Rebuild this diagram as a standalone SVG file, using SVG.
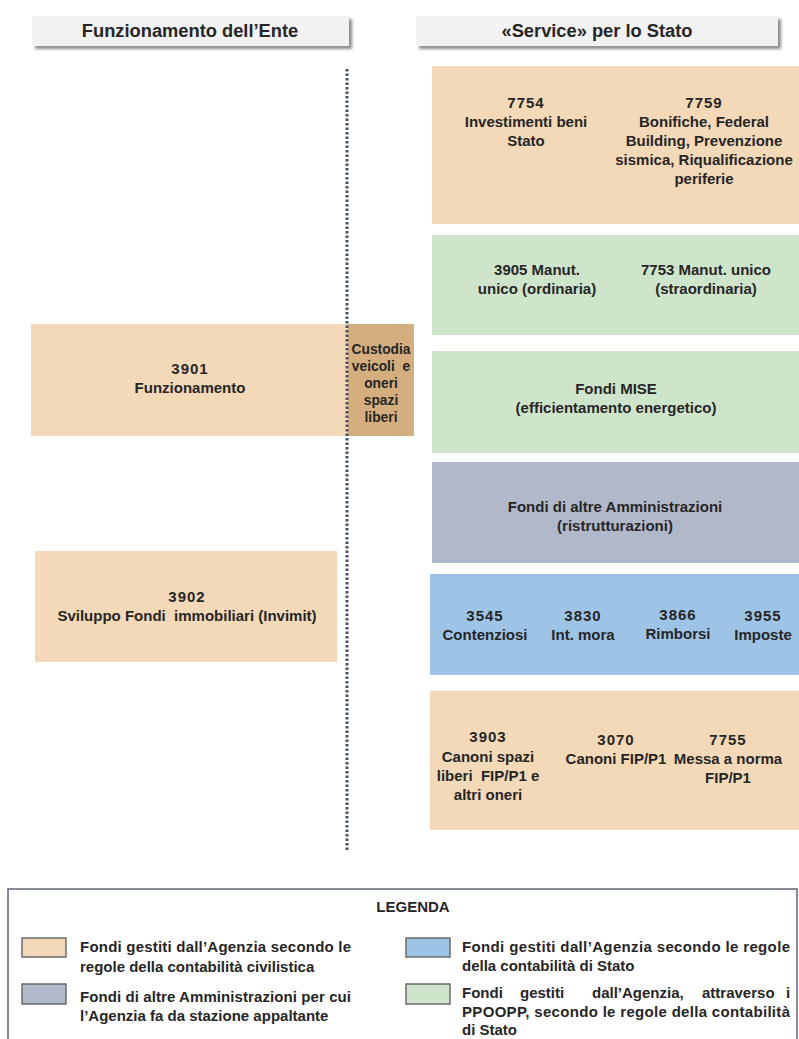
<svg xmlns="http://www.w3.org/2000/svg" width="799" height="1039" viewBox="0 0 799 1039">
<defs>
<filter id="sh" x="-5%" y="-30%" width="115%" height="180%">
<feGaussianBlur in="SourceAlpha" stdDeviation="1.5"/>
<feOffset dx="3" dy="3" result="o"/>
<feComponentTransfer><feFuncA type="linear" slope="0.45"/></feComponentTransfer>
<feMerge><feMergeNode/><feMergeNode in="SourceGraphic"/></feMerge>
</filter>
</defs>
<style>
text{font-family:"Liberation Sans",Arial,sans-serif;font-weight:bold;fill:#262626;}
.h{font-size:18.3px;text-anchor:middle;}
.t{font-size:15px;text-anchor:middle;}
.n{font-size:15px;text-anchor:middle;letter-spacing:1px;}
.s{font-size:13.8px;text-anchor:middle;}
.l{font-size:15px;}
.peach{fill:#F3D9B8;}
.green{fill:#CFE5CB;}
.gray{fill:#B1B8C9;}
.blue{fill:#9DC3E6;}
.tan{fill:#D4AE7E;}
.sw{stroke:#6B6B6B;stroke-width:1.5;}
</style>
<rect width="799" height="1039" fill="#fff"/>

<g id="header-ente">
<rect x="32" y="16" width="317" height="30" fill="#F2F2F2" filter="url(#sh)"/>
<text class="h" x="190" y="37">Funzionamento dell’Ente</text>
</g>
<g id="header-service">
<rect x="416" y="16" width="362" height="30" fill="#F2F2F2" filter="url(#sh)"/>
<text class="h" x="597" y="37">«Service» per lo Stato</text>
</g>

<g id="box-7754-7759">
<rect class="peach" x="432" y="66" width="367" height="158"/>
<text class="n" x="526" y="108">7754</text>
<text class="t" x="526" y="127">Investimenti beni</text>
<text class="t" x="526" y="146">Stato</text>
<text class="n" x="704" y="108">7759</text>
<text class="t" x="704" y="127">Bonifiche, Federal</text>
<text class="t" x="704" y="146">Building, Prevenzione</text>
<text class="t" x="704" y="165">sismica, Riqualificazione</text>
<text class="t" x="704" y="184">periferie</text>
</g>

<g id="box-manut">
<rect class="green" x="432" y="235" width="367" height="100"/>
<text class="t" x="537" y="275">3905 Manut.</text>
<text class="t" x="537" y="294">unico (ordinaria)</text>
<text class="t" x="706" y="275">7753 Manut. unico</text>
<text class="t" x="706" y="294">(straordinaria)</text>
</g>

<g id="box-mise">
<rect class="green" x="432" y="351" width="367" height="102"/>
<text class="t" x="616" y="394">Fondi MISE</text>
<text class="t" x="616" y="413">(efficientamento energetico)</text>
</g>

<g id="box-altre">
<rect class="gray" x="432" y="462" width="367" height="101"/>
<text class="t" x="615" y="512">Fondi di altre Amministrazioni</text>
<text class="t" x="615" y="531">(ristrutturazioni)</text>
</g>

<g id="box-stato">
<rect class="blue" x="430" y="574" width="369" height="101"/>
<text class="n" x="485" y="621">3545</text>
<text class="t" x="485" y="640">Contenziosi</text>
<text class="n" x="583" y="621">3830</text>
<text class="t" x="583" y="640">Int. mora</text>
<text class="n" x="678" y="620">3866</text>
<text class="t" x="678" y="639">Rimborsi</text>
<text class="n" x="763" y="621">3955</text>
<text class="t" x="763" y="640">Imposte</text>
</g>

<g id="box-fip">
<rect class="peach" x="430" y="691" width="369" height="139"/>
<text class="n" x="488" y="742">3903</text>
<text class="t" x="488" y="762">Canoni spazi</text>
<text class="t" x="488" y="781" xml:space="preserve">liberi  FIP/P1 e</text>
<text class="t" x="488" y="800">altri oneri</text>
<text class="n" x="616" y="745">3070</text>
<text class="t" x="616" y="764">Canoni FIP/P1</text>
<text class="n" x="728" y="745">7755</text>
<text class="t" x="728" y="764">Messa a norma</text>
<text class="t" x="728" y="783">FIP/P1</text>
</g>

<g id="box-3901">
<rect class="peach" x="31" y="324" width="317" height="112"/>
<text class="n" x="190" y="374">3901</text>
<text class="t" x="190" y="393">Funzionamento</text>
</g>

<g id="box-custodia">
<rect class="tan" x="348" y="324" width="66" height="112"/>
<text class="s" x="381" y="354">Custodia</text>
<text class="s" x="381" y="371" xml:space="preserve">veicoli  e</text>
<text class="s" x="381" y="388">oneri</text>
<text class="s" x="381" y="405">spazi</text>
<text class="s" x="381" y="422">liberi</text>
</g>

<g id="box-3902">
<rect class="peach" x="35" y="551" width="302" height="111"/>
<text class="n" x="187" y="602">3902</text>
<text class="t" x="187" y="621" xml:space="preserve">Sviluppo Fondi  immobiliari (Invimit)</text>
</g>

<g id="connectors">
<line x1="347" y1="69" x2="347" y2="850" stroke="#4A5466" stroke-width="3" stroke-dasharray="2.5 2"/>
</g>

<g id="legend">
<rect x="8" y="889" width="789" height="160" fill="#fff" stroke="#5D6573" stroke-width="1.5"/>
<text class="l" x="413" y="912" text-anchor="middle">LEGENDA</text>
<rect class="peach sw" x="22" y="938" width="44" height="19"/>
<text class="l" x="80" y="952" textLength="271" lengthAdjust="spacing">Fondi gestiti dall’Agenzia secondo le</text>
<text class="l" x="80" y="972">regole della contabilità civilistica</text>
<rect class="gray sw" x="22" y="984" width="44" height="20"/>
<text class="l" x="80" y="1002" textLength="271" lengthAdjust="spacing">Fondi di altre Amministrazioni per cui</text>
<text class="l" x="80" y="1021">l’Agenzia fa da stazione appaltante</text>
<rect class="blue sw" x="406" y="938" width="44" height="19"/>
<text class="l" x="462" y="952" textLength="328" lengthAdjust="spacing">Fondi gestiti dall’Agenzia secondo le regole</text>
<text class="l" x="462" y="971">della contabilità di Stato</text>
<rect class="green sw" x="406" y="984" width="44" height="20"/>
<text class="l" y="998"><tspan x="462">Fondi</tspan> <tspan x="520">gestiti</tspan> <tspan x="592">dall’Agenzia,</tspan> <tspan x="702">attraverso</tspan> <tspan x="786">i</tspan></text>
<text class="l" x="462" y="1017" textLength="328" lengthAdjust="spacing">PPOOPP, secondo le regole della contabilità</text>
<text class="l" x="462" y="1035">di Stato</text>
</g>
</svg>
